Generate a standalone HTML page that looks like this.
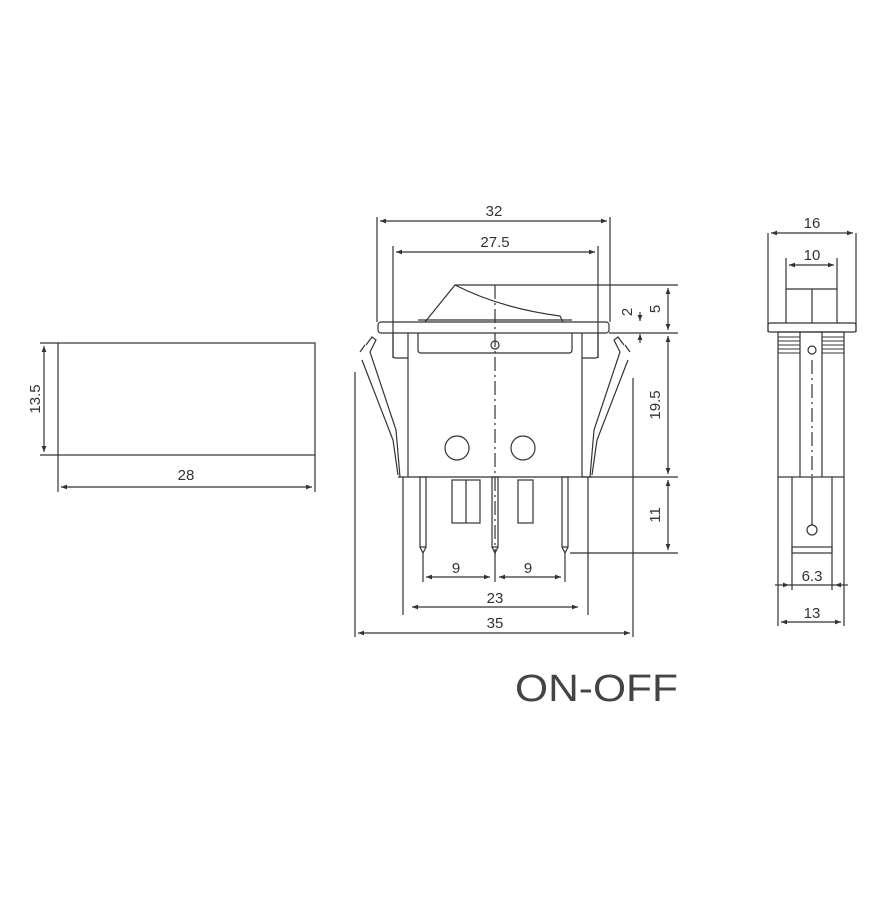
<!DOCTYPE html>
<html><head><meta charset="utf-8"><style>
html,body{margin:0;padding:0;background:#fff;}
svg{display:block;}
text{font-family:"Liberation Sans",sans-serif;fill:#333;}
</style></head><body>
<svg width="893" height="909" viewBox="0 0 893 909" xmlns="http://www.w3.org/2000/svg">
<defs>
<marker id="a" viewBox="0 0 10 10" refX="10" refY="5" markerWidth="7" markerHeight="5" orient="auto-start-reverse"><path d="M0,1 L10,5 L0,9 z" fill="#333"/></marker>
</defs>
<g stroke="#333" stroke-width="1.2" fill="none">
<!-- left view -->
<rect x="58" y="343" width="257" height="112"/>
<line x1="40" y1="343" x2="58" y2="343"/>
<line x1="40" y1="455" x2="58" y2="455"/>
<line x1="44" y1="346" x2="44" y2="452" marker-start="url(#a)" marker-end="url(#a)"/>
<line x1="58" y1="455" x2="58" y2="492"/>
<line x1="315" y1="455" x2="315" y2="492"/>
<line x1="61" y1="487" x2="312" y2="487" marker-start="url(#a)" marker-end="url(#a)"/>

<!-- middle view -->
<line x1="377" y1="217" x2="377" y2="322"/>
<line x1="610" y1="217" x2="610" y2="322"/>
<line x1="380" y1="221" x2="607" y2="221" marker-start="url(#a)" marker-end="url(#a)"/>
<line x1="393" y1="246" x2="393" y2="358"/>
<line x1="598" y1="246" x2="598" y2="358"/>
<line x1="396" y1="252" x2="595" y2="252" marker-start="url(#a)" marker-end="url(#a)"/>
<rect x="378" y="322" width="231" height="11" rx="3"/>
<path d="M425,322 L455,285 L678,285"/>
<path d="M455,285 Q500,308 560,316 L563,322"/>
<line x1="418" y1="320" x2="572" y2="320"/>
<line x1="408" y1="333" x2="408" y2="477"/>
<line x1="582" y1="333" x2="582" y2="477"/>
<path d="M418,333 L418,350 Q418,353 421,353 L569,353 Q572,353 572,350 L572,333"/>
<path d="M393,333 L393,356 Q393,358 396,358 L408,358"/>
<path d="M598,333 L598,356 Q598,358 595,358 L582,358"/>
<line x1="495" y1="285" x2="495" y2="555" stroke-dasharray="14,4,2,4"/>
<circle cx="495" cy="345" r="4"/>
<circle cx="457" cy="448" r="12"/>
<circle cx="523" cy="448" r="12"/>
<line x1="398" y1="477" x2="592" y2="477"/>
<!-- clips -->
<path d="M366,345 L372,337 L376,340 L370,352 L396,430 L400,477"/>
<path d="M360,352 L365,345 M362,360 L393,440 L398,475"/>
<path d="M624,345 L618,337 L614,340 L620,352 L594,430 L590,477"/>
<path d="M630,352 L625,345 M628,360 L597,440 L592,475"/>
<!-- pins -->
<rect x="420" y="477" width="6" height="70"/>
<rect x="492" y="477" width="6" height="70"/>
<rect x="562" y="477" width="6" height="70"/>
<path d="M420,547 L423,553 L426,547 M492,547 L495,553 L498,547 M562,547 L565,553 L568,547"/>
<rect x="452" y="480" width="28" height="43"/>
<line x1="466" y1="480" x2="466" y2="523"/>
<rect x="518" y="480" width="15" height="43"/>
<!-- dims bottom -->
<line x1="423" y1="553" x2="423" y2="582"/>
<line x1="495" y1="553" x2="495" y2="582"/>
<line x1="565" y1="553" x2="565" y2="582"/>
<line x1="426" y1="577" x2="490" y2="577" marker-start="url(#a)" marker-end="url(#a)"/>
<line x1="499" y1="577" x2="561" y2="577" marker-start="url(#a)" marker-end="url(#a)"/>
<line x1="403" y1="477" x2="403" y2="615"/>
<line x1="588" y1="477" x2="588" y2="615"/>
<line x1="412" y1="607" x2="578" y2="607" marker-start="url(#a)" marker-end="url(#a)"/>
<line x1="355" y1="372" x2="355" y2="637"/>
<line x1="633" y1="378" x2="633" y2="637"/>
<line x1="358" y1="633" x2="630" y2="633" marker-start="url(#a)" marker-end="url(#a)"/>
<!-- dims right -->
<line x1="609" y1="333" x2="678" y2="333"/>
<line x1="582" y1="477" x2="678" y2="477"/>
<line x1="570" y1="553" x2="678" y2="553"/>
<line x1="668" y1="288" x2="668" y2="330" marker-start="url(#a)" marker-end="url(#a)"/>
<line x1="668" y1="336" x2="668" y2="474" marker-start="url(#a)" marker-end="url(#a)"/>
<line x1="668" y1="480" x2="668" y2="550" marker-start="url(#a)" marker-end="url(#a)"/>
<line x1="640" y1="312" x2="640" y2="321" marker-end="url(#a)"/>
<line x1="640" y1="343" x2="640" y2="334" marker-end="url(#a)"/>

<!-- right view -->
<line x1="768" y1="233" x2="768" y2="332"/>
<line x1="856" y1="233" x2="856" y2="332"/>
<line x1="771" y1="233" x2="853" y2="233" marker-start="url(#a)" marker-end="url(#a)"/>
<line x1="786" y1="258" x2="786" y2="323"/>
<line x1="837" y1="258" x2="837" y2="323"/>
<line x1="789" y1="265" x2="834" y2="265" marker-start="url(#a)" marker-end="url(#a)"/>
<line x1="786" y1="289" x2="837" y2="289"/>
<line x1="812" y1="289" x2="812" y2="323"/>
<rect x="768" y="323" width="88" height="9" rx="2"/>
<rect x="778" y="332" width="66" height="145"/>
<line x1="800" y1="332" x2="800" y2="477"/>
<line x1="822" y1="332" x2="822" y2="477"/>
<circle cx="812" cy="350" r="4"/>
<line x1="812" y1="360" x2="812" y2="477" stroke-dasharray="14,4,2,4"/>
<g stroke-width="1">
<line x1="778" y1="337" x2="800" y2="337"/><line x1="778" y1="341" x2="800" y2="341"/><line x1="778" y1="345" x2="800" y2="345"/><line x1="778" y1="349" x2="800" y2="349"/><line x1="778" y1="353" x2="800" y2="353"/>
<line x1="822" y1="337" x2="844" y2="337"/><line x1="822" y1="341" x2="844" y2="341"/><line x1="822" y1="345" x2="844" y2="345"/><line x1="822" y1="349" x2="844" y2="349"/><line x1="822" y1="353" x2="844" y2="353"/>
</g>
<line x1="792" y1="477" x2="792" y2="590"/>
<line x1="832" y1="477" x2="832" y2="590"/>
<rect x="792" y="547" width="40" height="6"/>
<circle cx="812" cy="530" r="5"/>
<line x1="812" y1="477" x2="812" y2="525"/>
<line x1="775" y1="585" x2="789" y2="585" marker-end="url(#a)"/>
<line x1="848" y1="585" x2="835" y2="585" marker-end="url(#a)"/>
<line x1="789" y1="585" x2="835" y2="585"/>
<line x1="778" y1="477" x2="778" y2="626"/>
<line x1="844" y1="477" x2="844" y2="626"/>
<line x1="781" y1="622" x2="841" y2="622" marker-start="url(#a)" marker-end="url(#a)"/>
</g>
<!-- labels -->
<g font-size="15" stroke="none">
<text x="494" y="216" text-anchor="middle">32</text>
<text x="495" y="247" text-anchor="middle">27.5</text>
<text x="186" y="480" text-anchor="middle">28</text>
<text transform="translate(40,399) rotate(-90)" text-anchor="middle">13.5</text>
<text x="456" y="573" text-anchor="middle">9</text>
<text x="528" y="573" text-anchor="middle">9</text>
<text x="495" y="603" text-anchor="middle">23</text>
<text x="495" y="628" text-anchor="middle">35</text>
<text transform="translate(660,309) rotate(-90)" text-anchor="middle">5</text>
<text transform="translate(632,312) rotate(-90)" text-anchor="middle">2</text>
<text transform="translate(660,405) rotate(-90)" text-anchor="middle">19.5</text>
<text transform="translate(660,515) rotate(-90)" text-anchor="middle">11</text>
<text x="812" y="228" text-anchor="middle">16</text>
<text x="812" y="260" text-anchor="middle">10</text>
<text x="812" y="581" text-anchor="middle">6.3</text>
<text x="812" y="618" text-anchor="middle">13</text>
</g>
<text x="515" y="701" font-size="38" textLength="163" lengthAdjust="spacingAndGlyphs" style="fill:#444">ON-OFF</text>
</svg>
</body></html>
